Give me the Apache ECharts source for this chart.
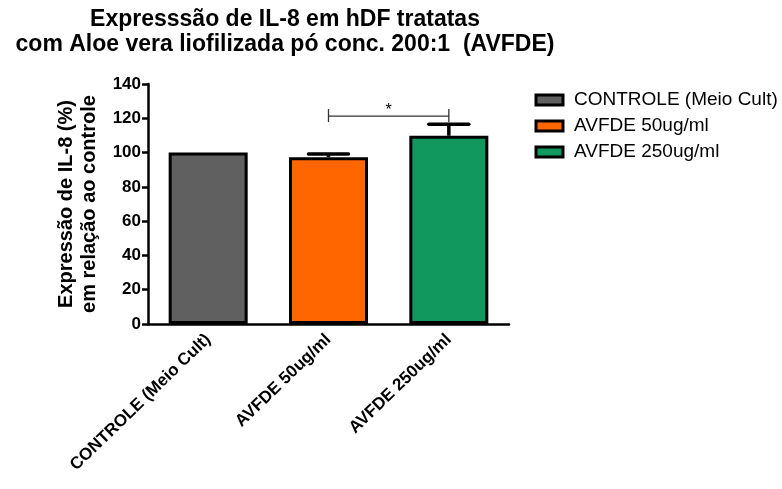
<!DOCTYPE html>
<html>
<head>
<meta charset="utf-8">
<script src="https://cdn.jsdelivr.net/npm/echarts@6/dist/echarts.min.js"></script>
<style>
  html, body { margin: 0; padding: 0; background: #fff; }
  #chart { width: 782px; height: 489px; }
</style>
</head>
<body>
<div id="chart"></div>
<script>
// Groups, means (% of control) and upper SEM
const categories = ['CONTROLE (Meio Cult)', 'AVFDE 50ug/ml', 'AVFDE 250ug/ml'];
const means = [100, 97.3, 109.8];
const errors = [0, 1.8, 6.7];
const colors = ['#606060', '#ff6600', '#10985f'];
const yTicks = { min: 0, max: 140, interval: 20 };
// Significance bracket between groups 1 and 2
const sigPair = [1, 2];
const sigLevel = 121.3;
const sigLabel = '*';

const FONT = 'Liberation Sans, Arial, sans-serif';
const chart = echarts.init(document.getElementById('chart'));

const barSeries = categories.map((name, i) => ({
  name: name,
  type: 'bar',
  barWidth: 79,
  barGap: '-100%',
  data: categories.map((c, j) => (j === i ? means[j] : '-')),
  itemStyle: { color: colors[i], borderColor: '#000', borderWidth: 3 },
  z: 2
}));

const errorSeries = {
  type: 'custom',
  name: 'sem',
  data: means.map((m, i) => [i, m, m + errors[i]]),
  renderItem: function (params, api) {
    if (!api.value(2) || api.value(2) === api.value(1)) return;
    const base = api.coord([api.value(0), api.value(1)]);
    const top = api.coord([api.value(0), api.value(2)]);
    const half = 20;
    return {
      type: 'group',
      children: [
        { type: 'line', shape: { x1: base[0], y1: base[1], x2: top[0], y2: top[1] }, style: { stroke: '#000', lineWidth: 3.5 } },
        { type: 'line', shape: { x1: top[0] - half, y1: top[1], x2: top[0] + half, y2: top[1] }, style: { stroke: '#000', lineWidth: 3.5, lineCap: 'round' } }
      ]
    };
  },
  z: 3
};

const bracketSeries = {
  type: 'custom',
  name: 'sig',
  data: [[sigPair[0], sigPair[1], sigLevel]],
  renderItem: function (params, api) {
    const a = api.coord([api.value(0), api.value(2)]);
    const b = api.coord([api.value(1), api.value(2)]);
    const st = { stroke: '#333', lineWidth: 1.3 };
    return {
      type: 'group',
      children: [
        { type: 'line', shape: { x1: a[0], y1: a[1], x2: b[0], y2: b[1] }, style: st },
        { type: 'line', shape: { x1: a[0], y1: a[1] - 7, x2: a[0], y2: a[1] + 6 }, style: st },
        { type: 'line', shape: { x1: b[0], y1: b[1] - 7, x2: b[0], y2: b[1] + 6 }, style: st },
        { type: 'text', x: (a[0] + b[0]) / 2, y: a[1] - 13,
          style: { text: sigLabel, fontFamily: FONT, fontSize: 16, fill: '#000', align: 'center', verticalAlign: 'top' } }
      ]
    };
  },
  z: 3
};

chart.setOption({
  animation: false,
  title: {
    text: 'Expresssão de IL-8 em hDF tratatas\ncom Aloe vera liofilizada pó conc. 200:1  (AVFDE)',
    left: 280,
    top: 2,
    textAlign: 'center',
    textStyle: { fontFamily: FONT, fontSize: 23, fontWeight: 'bold', color: '#000', lineHeight: 25 }
  },
  legend: {
    data: categories,
    orient: 'vertical',
    left: 529.5,
    top: 85.5,
    itemWidth: 27,
    itemHeight: 10,
    itemGap: 7,
    icon: 'rect',
    selectedMode: false,
    itemStyle: { borderColor: '#000', borderWidth: 3 },
    textStyle: { fontFamily: FONT, fontSize: 19, color: '#000', padding: [0, 0, 0, 6] }
  },
  grid: { left: 148, right: 273, top: 84, bottom: 165, containLabel: false },
  xAxis: {
    type: 'category',
    data: categories,
    axisLine: { lineStyle: { color: '#000', width: 2.5 } },
    axisTick: { alignWithLabel: true, length: 6, lineStyle: { color: '#000', width: 2.5 } },
    axisLabel: {
      rotate: 44,
      interval: 0,
      margin: 13,
      fontFamily: FONT, fontSize: 17, fontWeight: 'bold', color: '#000'
    }
  },
  yAxis: {
    type: 'value',
    min: yTicks.min, max: yTicks.max, interval: yTicks.interval,
    name: 'Expressão de IL-8 (%)\nem relação ao controle',
    nameLocation: 'middle',
    nameGap: 47,
    nameTextStyle: { fontFamily: FONT, fontSize: 20, fontWeight: 'bold', color: '#000', lineHeight: 23 },
    axisLine: { show: true, lineStyle: { color: '#000', width: 2.5 } },
    axisTick: { show: true, length: 6, lineStyle: { color: '#000', width: 2.5 } },
    splitLine: { show: false },
    axisLabel: { margin: 7, fontFamily: FONT, fontSize: 17, fontWeight: 'bold', color: '#000' }
  },
  series: [...barSeries, errorSeries, bracketSeries]
});
</script>
</body>
</html>
